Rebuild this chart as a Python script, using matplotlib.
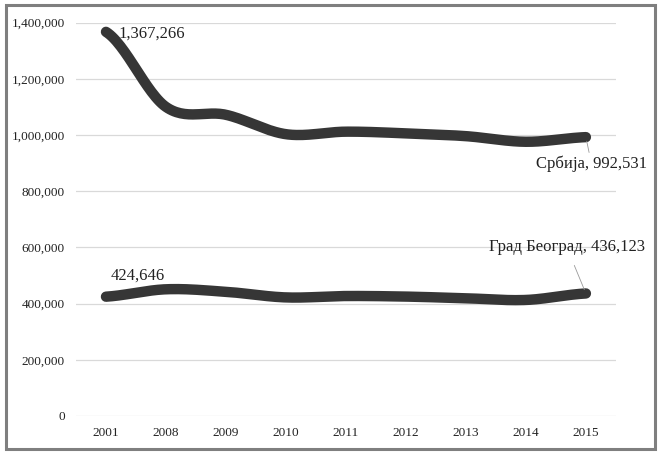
import numpy as np
import matplotlib
matplotlib.use("Agg")
import matplotlib.pyplot as plt
from matplotlib.patches import Rectangle

years = ["2001", "2008", "2009", "2010", "2011", "2012", "2013", "2014", "2015"]
srbija = [1367266, 1100000, 1072000, 1003000, 1012000, 1006000, 996000, 976000, 992531]
beograd = [424646, 451000, 442000, 422000, 427000, 425000, 419000, 413000, 436123]
yticks = [0, 200000, 400000, 600000, 800000, 1000000, 1200000, 1400000]


def smooth(x, y, n=30):
    """Catmull-Rom style smoothing, similar to a spreadsheet 'smoothed line'."""
    x = np.asarray(x, float)
    y = np.asarray(y, float)
    px = np.concatenate([[2 * x[0] - x[1]], x, [2 * x[-1] - x[-2]]])
    py = np.concatenate([[y[0]], y, [y[-1]]])
    xs, ys = [], []
    for i in range(1, len(px) - 2):
        t = np.linspace(0, 1, n)
        p0, p1, p2, p3 = py[i - 1], py[i], py[i + 1], py[i + 2]
        q0, q1, q2, q3 = px[i - 1], px[i], px[i + 1], px[i + 2]
        ys.append(0.5 * (2 * p1 + (-p0 + p2) * t + (2 * p0 - 5 * p1 + 4 * p2 - p3) * t**2
                         + (-p0 + 3 * p1 - 3 * p2 + p3) * t**3))
        xs.append(0.5 * (2 * q1 + (-q0 + q2) * t + (2 * q0 - 5 * q1 + 4 * q2 - q3) * t**2
                         + (-q0 + 3 * q1 - 3 * q2 + q3) * t**3))
    return np.concatenate(xs), np.concatenate(ys)


plt.rcParams["font.family"] = ["Liberation Serif", "DejaVu Serif"]

fig = plt.figure(figsize=(6.58, 4.53), dpi=100)
ax = fig.add_axes([0.1155, 0.0817, 0.8205, 0.8683])

x = np.arange(len(years))
line_color = "#363636"
for series in (srbija, beograd):
    sx, sy = smooth(x, series)
    ax.plot(sx, sy, color=line_color, lw=7.5, solid_capstyle="round", zorder=3)

ax.set_xlim(-0.5, len(years) - 0.5)
ax.set_ylim(0, 1400000)
ax.set_yticks(yticks)
ax.set_yticklabels([f"{v:,}" for v in yticks], fontsize=9.5)
ax.set_xticks(x)
ax.set_xticklabels(years, fontsize=9.5)
ax.tick_params(length=0, pad=8, colors="#222222")
ax.tick_params(axis="y", pad=8)
ax.grid(axis="y", color="#d9d9d9", lw=0.9)
ax.set_axisbelow(True)
for s in ax.spines.values():
    s.set_visible(False)

# data labels
lbl = dict(fontsize=12, va="center", ha="left", color="#222222", textcoords="offset points")
ax.annotate(f"{srbija[0]:,}", (x[0], srbija[0]), xytext=(9, -1), **lbl)
ax.annotate(f"{beograd[0]:,}", (x[0], beograd[0]), xytext=(3, 15), **lbl)
ax.annotate(f"Србија, {srbija[-1]:,}", (x[-1], srbija[-1]), xytext=(-36, -19), **lbl,
            arrowprops=dict(arrowstyle="-", color="#999999", lw=0.6, shrinkA=0, shrinkB=3))
ax.annotate(f"Град Београд, {beograd[-1]:,}", (x[-1], beograd[-1]), xytext=(-70, 33.5), **lbl,
            arrowprops=dict(arrowstyle="-", color="#999999", lw=0.6, shrinkA=6, shrinkB=3))

# outer frame
fig.patches.append(Rectangle((0.009, 0.008), 0.987, 0.982, transform=fig.transFigure,
                             fill=False, edgecolor="#7f7f7f", lw=2.2))

fig.savefig("out.png", dpi=100)
